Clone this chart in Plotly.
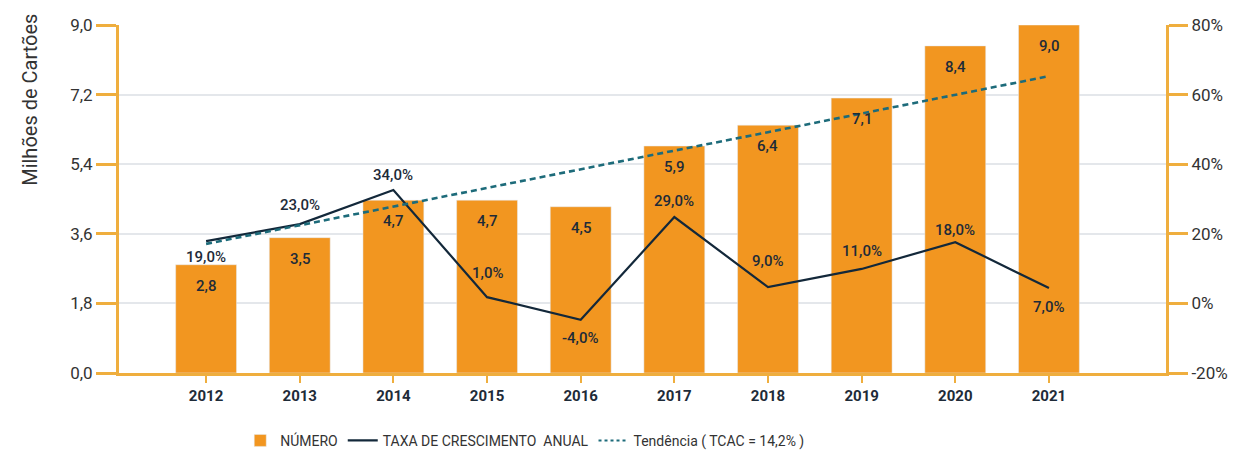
import plotly.graph_objects as go

anos = [2012, 2013, 2014, 2015, 2016, 2017, 2018, 2019, 2020, 2021]
numero = [2.8, 3.5, 4.47, 4.47, 4.3, 5.87, 6.41, 7.11, 8.46, 9.0]
numero_txt = ["2,8", "3,5", "4,7", "4,7", "4,5", "5,9", "6,4", "7,1", "8,4", "9,0"]
taxa = [17.9, 22.8, 32.6, 1.8, -4.7, 24.8, 4.7, 9.9, 17.6, 4.4]
taxa_txt = ["19,0%", "23,0%", "34,0%", "1,0%", "-4,0%", "29,0%", "9,0%", "11,0%", "18,0%", "7,0%"]
taxa_lbl_shift = [-16, 19, 15, 24, -18, 16, 26, 18, 12, -19]
tendencia = [17.1, 22.5, 27.8, 33.2, 38.5, 43.9, 49.2, 54.6, 59.9, 65.3]
y_ticks = [0, 1.8, 3.6, 5.4, 7.2, 9.0]
y_ticktext = ["0,0", "1,8", "3,6", "5,4", "7,2", "9,0"]
y2_ticks = [-20, 0, 20, 40, 60, 80]
y2_ticktext = ["-20%", "0%", "20%", "40%", "60%", "80%"]

ORANGE = "#F29620"
AXIS = "#EFAE3E"
NAVY = "#13283A"
TEAL = "#1D6B7A"
TXT = "#1E2B38"
FONT = "Roboto"
TREND_NAME = "Tendência ( TCAC = 14,2% )"

fig = go.Figure()
fig.add_trace(go.Bar(x=anos, y=numero, name="NÚMERO", marker_color=ORANGE,
                     width=0.65, hoverinfo="skip"))
fig.add_trace(go.Scatter(x=anos, y=taxa, name="TAXA DE CRESCIMENTO  ANUAL", mode="lines",
                         line=dict(color=NAVY, width=2.2), yaxis="y2"))
fig.add_trace(go.Scatter(x=anos, y=tendencia, name=TREND_NAME, mode="lines",
                         line=dict(color=TEAL, width=2.6, dash="6px,4px"), yaxis="y2",
                         showlegend=False, legendgroup="trend"))
# legend entry for the trend (dotted icon as in the reference)
fig.add_trace(go.Scatter(x=[None], y=[None], name=TREND_NAME, mode="lines",
                         line=dict(color=TEAL, width=2, dash="dot"), yaxis="y2",
                         legendgroup="trend"))

ann = []
for a, v, t in zip(anos, numero, numero_txt):
    ann.append(dict(x=a, y=v, xref="x", yref="y", text=t, showarrow=False, yshift=-21,
                    font=dict(family=FONT, size=15, color=TXT, weight=500)))
for a, v, t, s in zip(anos, taxa, taxa_txt, taxa_lbl_shift):
    ann.append(dict(x=a, y=v, xref="x", yref="y2", text=t, showarrow=False, yshift=s,
                    font=dict(family=FONT, size=15, color=TXT, weight=500)))
ann.append(dict(x=-0.085, y=0.785, xref="paper", yref="paper", text="Milhões de Cartões",
                textangle=-90, showarrow=False, xanchor="center", yanchor="middle",
                font=dict(family=FONT, size=20, color="#333")))

fig.update_layout(
    width=1229, height=443,
    margin=dict(l=111, r=71, t=17, b=78, autoexpand=False),
    plot_bgcolor="white", paper_bgcolor="white",
    font=dict(family=FONT, color=TXT),
    showlegend=True,
    legend=dict(orientation="h", x=0.388, xanchor="center", y=0.023, yref="container",
                yanchor="middle",
                font=dict(family=FONT, size=14, color="#333"), itemwidth=30,
                traceorder="normal"),
    annotations=ann,
    xaxis=dict(range=[2011.07, 2022.25], tickvals=anos, ticktext=[str(a) for a in anos],
               automargin=False,
               showgrid=False, showline=True, linecolor=AXIS, linewidth=3,
               ticks="outside", ticklen=7, tickcolor=AXIS, tickwidth=2,
               tickfont=dict(family=FONT, size=15, color=TXT, weight="bold"), zeroline=False),
    yaxis=dict(range=[0, 9], tickvals=y_ticks, ticktext=y_ticktext, automargin=False,
               showgrid=True, gridcolor="#E4E7EB", gridwidth=2,
               showline=True, linecolor=AXIS, linewidth=3,
               ticks="outside", ticklen=20, tickcolor=AXIS, tickwidth=3,
               tickfont=dict(family=FONT, size=17, color="#333"), zeroline=False),
    yaxis2=dict(range=[-20, 80], tickvals=y2_ticks, ticktext=y2_ticktext, overlaying="y",
                side="right", automargin=False,
                showgrid=False, showline=True, linecolor=AXIS, linewidth=3,
                ticks="outside", ticklen=19, tickcolor=AXIS, tickwidth=3,
                tickfont=dict(family=FONT, size=17, color="#333"), zeroline=False),
)

fig.write_html("out.html")
